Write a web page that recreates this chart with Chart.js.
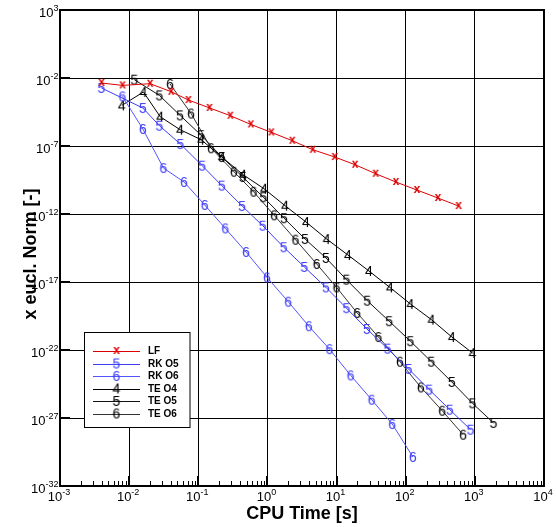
<!DOCTYPE html>
<html>
<head>
<meta charset="utf-8">
<script src="https://cdn.jsdelivr.net/npm/chart.js@4/dist/chart.umd.min.js"></script>
<style>
  html, body { margin: 0; padding: 0; background: #fff; }
  #wrap { width: 556px; height: 527px; }
</style>
</head>
<body>
<div id="wrap"><canvas id="c" width="556" height="527"></canvas></div>
<script>
// CPU time [s] vs error norm
const LF_T = [3.98e-3, 8.0e-3, 2.01e-2, 4.05e-2, 7.19e-2, 0.145, 0.291, 0.574, 1.14, 2.29, 4.52, 9.39, 18.5, 36.7, 72.2, 145, 292, 581];
const LF_E = [4.29e-3, 2.86e-3, 3.81e-3, 9.84e-4, 2.41e-4, 6.32e-5, 1.69e-5, 3.87e-6, 1.0e-6, 2.45e-7, 5.35e-8, 1.55e-8, 4.22e-9, 9.18e-10, 2.25e-10, 5.82e-11, 1.5e-11, 3.87e-12];

const RK5_T = [3.98e-3, 1.58e-2, 2.74e-2, 5.51e-2, 0.114, 0.219, 0.43, 0.855, 1.72, 3.42, 7.03, 13.9, 27.5, 54.7, 110, 219, 435, 867];
const RK5_E = [1.84e-3, 6.22e-5, 3.11e-6, 1.40e-7, 3.56e-9, 1.21e-10, 3.87e-12, 1.38e-13, 3.62e-15, 1.27e-16, 4.01e-18, 1.19e-19, 3.5e-21, 1.25e-22, 4.01e-24, 1.21e-25, 4.07e-27, 1.38e-28];

const RK6_T = [8.0e-3, 1.58e-2, 3.13e-2, 6.23e-2, 0.124, 0.246, 0.491, 0.987, 2.0, 3.97, 7.9, 16.0, 32.2, 63.8, 127];
const RK6_E = [4.44e-4, 1.78e-6, 2.41e-9, 2.25e-10, 4.59e-12, 8.73e-14, 1.61e-15, 2.18e-17, 3.56e-19, 5.62e-21, 1.15e-22, 1.36e-24, 2.22e-26, 3.62e-28, 1.36e-30];

const TE4_T = [7.84e-3, 1.61e-2, 2.81e-2, 5.46e-2, 0.11, 0.219, 0.444, 0.893, 1.80, 3.61, 7.19, 14.6, 29.4, 59.1, 117, 236, 465, 926];
const TE4_E = [9.66e-5, 9.35e-4, 1.43e-5, 1.58e-6, 2.9e-7, 1.55e-8, 7.76e-10, 7.24e-11, 4.07e-12, 2.58e-13, 1.45e-14, 9.66e-16, 6.44e-17, 4.01e-18, 2.41e-19, 1.69e-20, 9.03e-22, 6.01e-23];

const TE5_T = [1.19e-2, 2.74e-2, 5.46e-2, 0.11, 0.219, 0.44, 0.873, 1.74, 3.50, 7.03, 13.9, 27.8, 57.7, 117, 235, 465, 926, 1863];
const TE5_E = [7.5e-3, 5.26e-4, 1.78e-5, 6.22e-7, 1.55e-8, 5.26e-10, 1.72e-11, 4.91e-13, 1.45e-14, 5.82e-16, 1.48e-17, 4.22e-19, 1.31e-20, 4.44e-22, 1.38e-23, 4.44e-25, 1.19e-26, 4.29e-28];

const TE6_T = [3.91e-2, 7.87e-2, 0.153, 0.327, 0.63, 1.25, 2.55, 5.16, 10.0, 19.9, 40.3, 82.5, 166, 337, 677];
const TE6_E = [3.62e-3, 2.45e-5, 6.89e-8, 1.29e-9, 4.37e-11, 8.02e-13, 1.29e-14, 2.11e-16, 4.01e-18, 5.26e-20, 9.03e-22, 1.38e-23, 1.78e-25, 3.44e-27, 5.92e-29];

const SERIES_NAMES = ['LF', 'RK O5', 'RK O6', 'TE O4', 'TE O5', 'TE O6'];

const X_TICKS = [1e-3, 1e-2, 1e-1, 1e0, 1e1, 1e2, 1e3, 1e4];
const X_EXP = ['-3', '-2', '-1', '0', '1', '2', '3', '4'];
const Y_TICKS = [1e3, 1e-2, 1e-7, 1e-12, 1e-17, 1e-22, 1e-27, 1e-32];
const Y_EXP = ['3', '-2', '-7', '-12', '-17', '-22', '-27', '-32'];

const RED = '#dd0000', BLUE = '#3c3cf8', BLUE2 = '#5454ff', BLACK = '#000';
const FONT = '"Liberation Sans", Arial, sans-serif';

// text glyphs used as point markers
function glyph(ch, color, font, rise) {
  const c = document.createElement('canvas');
  c.width = 16; c.height = 18;
  const g = c.getContext('2d');
  g.font = font;
  g.fillStyle = color;
  g.textAlign = 'center';
  g.textBaseline = 'alphabetic';
  g.fillText(ch, 8, 9 + rise);
  return c;
}
const DIG = '14px ' + FONT;
const MARK = {
  LF: glyph('x', RED, 'bold 12px ' + FONT, 3.2),
  RK5: glyph('5', BLUE, DIG, 5),
  RK6: glyph('6', BLUE, DIG, 5),
  TE4: glyph('4', BLACK, DIG, 5),
  TE5: glyph('5', BLACK, DIG, 5),
  TE6: glyph('6', BLACK, DIG, 5)
};

const pts = (xs, ys) => xs.map((x, i) => ({ x: x, y: ys[i] }));
const ds = (label, xs, ys, color, mark) => ({
  label: label, data: pts(xs, ys), showLine: true,
  borderColor: color, borderWidth: 1, pointStyle: mark,
  pointRadius: 6, pointHoverRadius: 6
});

const datasets = [
  ds(SERIES_NAMES[0], LF_T, LF_E, RED, MARK.LF),
  ds(SERIES_NAMES[1], RK5_T, RK5_E, BLUE, MARK.RK5),
  ds(SERIES_NAMES[2], RK6_T, RK6_E, BLUE2, MARK.RK6),
  ds(SERIES_NAMES[3], TE4_T, TE4_E, BLACK, MARK.TE4),
  ds(SERIES_NAMES[4], TE5_T, TE5_E, '#111', MARK.TE5),
  ds(SERIES_NAMES[5], TE6_T, TE6_E, '#333', MARK.TE6)
];

function drawPow(ctx, exp, x, baseY, align) {
  ctx.font = '13px ' + FONT;
  const wb = ctx.measureText('10').width;
  ctx.font = '9px ' + FONT;
  const we = ctx.measureText(exp).width;
  let left = align === 'right' ? x - wb - we : x - (wb + we) / 2;
  ctx.textAlign = 'left';
  ctx.textBaseline = 'alphabetic';
  ctx.font = '13px ' + FONT;
  ctx.fillText('10', left, baseY);
  ctx.font = '9px ' + FONT;
  ctx.fillText(exp, left + wb, baseY - 6.5);
}

const decor = {
  id: 'decor',
  afterDraw(chart) {
    const ctx = chart.ctx, a = chart.chartArea;
    const xs = chart.scales.x, ys = chart.scales.y;
    ctx.save();
    ctx.fillStyle = '#000';
    ctx.strokeStyle = '#000';

    // minor + major ticks on the bottom axis
    ctx.lineWidth = 1;
    ctx.beginPath();
    for (let d = -3; d < 4; d++) {
      for (let k = 2; k <= 9; k++) {
        const px = Math.round(xs.getPixelForValue(k * Math.pow(10, d))) + 0.5;
        ctx.moveTo(px, a.bottom); ctx.lineTo(px, a.bottom - 5);
      }
    }
    ctx.stroke();
    ctx.lineWidth = 2;
    ctx.beginPath();
    X_TICKS.forEach(v => {
      const px = Math.round(xs.getPixelForValue(v));
      ctx.moveTo(px, a.bottom); ctx.lineTo(px, a.bottom - 10);
    });
    Y_TICKS.forEach(v => {
      const py = Math.round(ys.getPixelForValue(v));
      ctx.moveTo(a.left, py); ctx.lineTo(a.left + 10, py);
    });
    ctx.stroke();

    // frame
    ctx.lineWidth = 2;
    ctx.strokeRect(a.left, a.top, a.right - a.left, a.bottom - a.top);

    // tick labels
    X_TICKS.forEach((v, i) => drawPow(ctx, X_EXP[i], xs.getPixelForValue(v) - 1, a.bottom + 15, 'center'));
    Y_TICKS.forEach((v, i) => drawPow(ctx, Y_EXP[i], 58.5, ys.getPixelForValue(v) + 7, 'right'));

    // axis titles
    ctx.font = 'bold 18px ' + FONT;
    ctx.textAlign = 'center';
    ctx.textBaseline = 'middle';
    ctx.fillText('CPU Time [s]', (a.left + a.right) / 2, 514);
    ctx.save();
    ctx.translate(31, 254);
    ctx.rotate(-Math.PI / 2);
    ctx.fillText('x eucl. Norm [-]', 0, 0);
    ctx.restore();

    // legend box
    const bx = 84.5, by = 332.5, bw = 105.5, bh = 95;
    ctx.fillStyle = '#fff';
    ctx.fillRect(bx, by, bw, bh);
    ctx.lineWidth = 1;
    ctx.strokeStyle = '#000';
    ctx.strokeRect(bx, by, bw, bh);
    const rows = [351, 363.5, 376, 388.5, 401, 413.5];
    chart.data.datasets.forEach((d, i) => {
      const ry = rows[i];
      ctx.strokeStyle = d.borderColor;
      ctx.lineWidth = 1;
      ctx.beginPath();
      ctx.moveTo(93, Math.round(ry) + 0.5); ctx.lineTo(140, Math.round(ry) + 0.5);
      ctx.stroke();
      const m = d.pointStyle;
      ctx.drawImage(m, 116.5 - m.width / 2, ry - m.height / 2);
      ctx.fillStyle = '#000';
      ctx.font = 'bold 10px ' + FONT;
      ctx.textAlign = 'left';
      ctx.textBaseline = 'middle';
      ctx.fillText(d.label, 148, ry + 0.5);
    });
    ctx.restore();
  }
};

new Chart(document.getElementById('c'), {
  type: 'scatter',
  data: { datasets: datasets },
  options: {
    responsive: false,
    animation: false,
    layout: { padding: { top: 10, right: 12, left: 0, bottom: 0 } },
    plugins: { legend: { display: false }, tooltip: { enabled: false } },
    scales: {
      x: {
        type: 'logarithmic', min: 1e-3, max: 1e4,
        afterBuildTicks: s => { s.ticks = X_TICKS.map(v => ({ value: v })); },
        afterFit: s => { s.height = 41; },
        ticks: { display: false },
        grid: { color: '#000', lineWidth: 1, drawTicks: false },
        border: { display: false }
      },
      y: {
        type: 'logarithmic', min: 1e-32, max: 1e3,
        afterBuildTicks: s => { s.ticks = Y_TICKS.map(v => ({ value: v })); },
        afterFit: s => { s.width = 60; },
        ticks: { display: false },
        grid: { color: '#000', lineWidth: 1, drawTicks: false },
        border: { display: false }
      }
    }
  },
  plugins: [decor]
});
</script>
</body>
</html>
